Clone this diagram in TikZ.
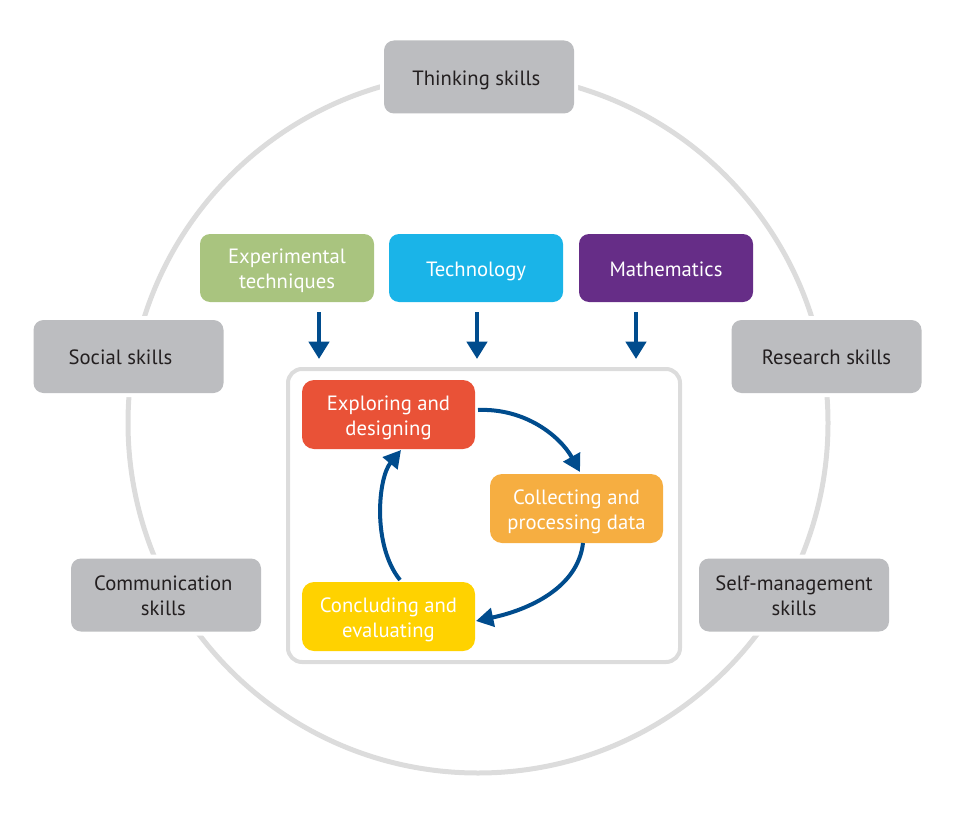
\documentclass[tikz,border=0pt]{standalone}
\usepackage{fontspec}
\setmainfont{PT Sans}
\usetikzlibrary{arrows.meta}
\definecolor{ringgray}{HTML}{DCDCDC}
\definecolor{boxgray}{HTML}{BCBDC0}
\definecolor{txtdark}{HTML}{231F20}
\definecolor{cgreen}{HTML}{A9C47F}
\definecolor{cblue}{HTML}{1AB4E8}
\definecolor{cpurple}{HTML}{662D87}
\definecolor{cred}{HTML}{E95237}
\definecolor{corange}{HTML}{F6AE41}
\definecolor{cyellow}{HTML}{FFD200}
\definecolor{arrowblue}{HTML}{004C8D}
\tikzset{
  boxfont/.style={font=\fontsize{15.5}{18.75}\selectfont},
  skill/.style={preaction={draw=white,line width=6pt},fill=boxgray,rounded corners=7.5pt,
    minimum width=142.5pt,minimum height=54.75pt,align=center,text=txtdark,
    boxfont,inner sep=0pt},
  tool/.style={fill=#1,rounded corners=7.5pt,minimum width=130.5pt,minimum height=51pt,
    align=center,text=white,boxfont,inner sep=0pt},
  stage/.style={fill=#1,rounded corners=9pt,minimum width=129.75pt,minimum height=51.75pt,
    align=center,text=white,boxfont,inner sep=0pt},
  downarrow/.style={draw=arrowblue,line width=3.5pt,-{Triangle[width=15pt,length=13pt]}},
  cyclearrow/.style={draw=arrowblue,line width=3pt,-{Triangle[width=14pt,length=13pt]}},
}
\newcommand{\dn}[1]{\raisebox{-2.5pt}[\height][\depth]{\begin{tabular}{@{}c@{}}#1\end{tabular}}}
\begin{document}
\begin{tikzpicture}[x=0.75pt,y=-0.75pt]
\useasboundingbox (0,0) rectangle (956,831);
% outer ring
\draw[ringgray,line width=3.75pt] (478,423) circle[radius=262.5pt];
% skill boxes
\node[skill] (think) at (479,77) {\hspace*{-4pt}\dn{Thinking skills}};
\node[skill] (social) at (128.5,356.5) {\hspace*{-12pt}\dn{Social skills}};
\node[skill] (research) at (826.5,356.5) {\dn{Research skills}};
\node[skill] (comm) at (166,595) {\hspace*{-4pt}\dn{Communication\\skills}};
\node[skill] (self) at (794,595) {\dn{Self-management\\skills}};
% tool boxes
\node[tool=cgreen] (exp) at (287,268) {\dn{Experimental\\techniques}};
\node[tool=cblue] (tech) at (476,268) {\dn{Technology}};
\node[tool=cpurple] (math) at (666,268) {\dn{Mathematics}};
% inner frame
\node[draw=ringgray,line width=3pt,rounded corners=10.5pt,minimum width=294pt,minimum height=219.75pt] (frame) at (484,515.5) {};
% stage boxes
\node[stage=cred] (expl) at (388.5,414.5) {\dn{Exploring and\\designing}};
\node[stage=corange] (coll) at (576.5,508.5) {\dn{Collecting and\\processing data}};
\node[stage=cyellow] (concl) at (388.5,616.5) {\dn{Concluding and\\evaluating}};
% down arrows
\coordinate (a1s) at (319,312); \coordinate (a1e) at (319,359);
\coordinate (a2s) at (477,312); \coordinate (a2e) at (477,359);
\coordinate (a3s) at (636,312); \coordinate (a3e) at (636,359);
\draw[downarrow] (a1s) -- (a1e);
\draw[downarrow] (a2s) -- (a2e);
\draw[downarrow] (a3s) -- (a3e);
% cycle arrows
\coordinate (c1s) at (478,410); \coordinate (c1e) at (580,472);
\coordinate (c2s) at (583,543); \coordinate (c2e) at (476,621);
\coordinate (c3s) at (400,580); \coordinate (c3e) at (401,450);
\draw[cyclearrow] (c1s) .. controls (525,408) and (560,436) .. (c1e);
\draw[cyclearrow] (c2s) .. controls (578,588) and (528,610) .. (c2e);
\draw[cyclearrow] (c3s) .. controls (372,545) and (378,478) .. (c3e);
\end{tikzpicture}
\end{document}
